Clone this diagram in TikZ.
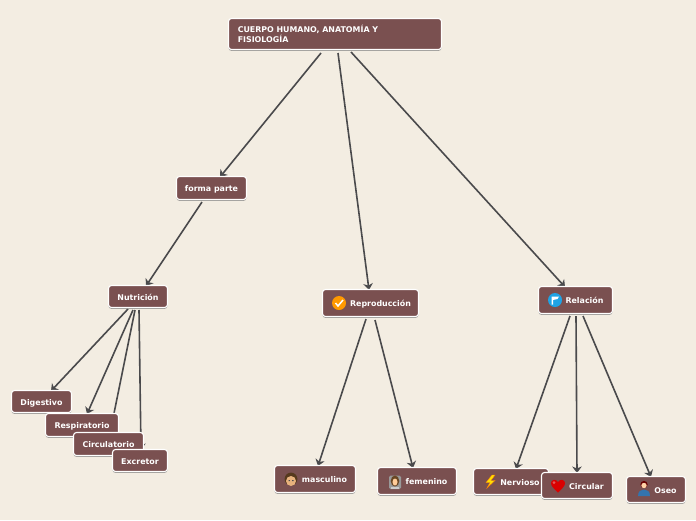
\documentclass[tikz,border=0pt]{standalone}
\usepackage{fontspec}
\setmainfont{DejaVu Sans}
\usetikzlibrary{calc,shadows,backgrounds,arrows.meta}
\definecolor{bg}{HTML}{F3EDE2}
\definecolor{boxc}{HTML}{7A5050}
\definecolor{linec}{HTML}{4A4A4C}
\tikzset{
  x=1pt,y=-1pt,
  mapbox/.style={draw=white,line width=1.1pt,fill=boxc,rounded corners=3pt,inner sep=0pt,outer sep=0pt,
    text=white,font=\fontsize{7.9}{10}\selectfont\bfseries,
    drop shadow={shadow xshift=0pt,shadow yshift=-1.4pt,fill=black!55,opacity=.7}},
  conn/.style={draw=linec,line width=1.6pt,-{Stealth[length=6.5pt,width=9.5pt,inset=2pt]}},
}
\newcommand{\bx}[6]{% name,x0,y0,x1,y1,text
  \node[mapbox,text height=8pt,text depth=1pt,minimum width=#4pt-#2pt+1pt,minimum height=#5pt-#3pt+1pt] (#1) at ({(#2+#4)/2},{(#3+#5)/2}) {#6};}
\begin{document}
\begin{tikzpicture}
\useasboundingbox (0,0) rectangle (696,520);
% boxes
\node[mapbox,minimum width=213pt,minimum height=31pt,anchor=north west,align=left,text width=194.5pt] (top) at (228.5,18.5) {CUERPO HUMANO, ANATOMÍA Y\\FISIOLOGÍA};
\bx{forma}{177}{177}{246}{199}{forma parte}
\bx{nutri}{109}{286}{167}{307}{Nutrición}
\bx{repro}{323}{290}{418}{316}{\hspace*{20pt}Reproducción}
\bx{rela}{539}{287}{612}{313}{\hspace*{18pt}Relación}
\bx{dige}{12}{391}{71}{412}{Digestivo}
\bx{resp}{46}{414}{118}{436}{Respiratorio}
\bx{circu}{74}{433}{143}{455}{Circulatorio}
\bx{excr}{113}{450}{167}{471}{Excretor}
\bx{masc}{275}{466}{355}{492}{\hspace*{19pt}masculino}
\bx{feme}{378}{468}{456}{494}{\hspace*{19pt}femenino}
\bx{nerv}{474}{469}{548}{494}{\hspace*{18pt}Nervioso}
\bx{circ}{542}{473}{612}{498}{\hspace*{19pt}Circular}
\bx{oseo}{627}{477}{685}{502}{\hspace*{19pt}Oseo}
% connectors and background
\begin{pgfonlayer}{background}
\fill[bg] (0,0) rectangle (696,520);
\draw[conn] ($(top.north west)+(92.5,34.5)$) -- ($(forma.north west)+(43.5,0.5)$);
\draw[conn] ($(top.north west)+(109.5,34.5)$) -- ($(repro.north west)+(46.5,0.5)$);
\draw[conn] ($(top.north west)+(122.5,33.5)$) -- ($(rela.north west)+(26.5,0.5)$);
\draw[conn] ($(forma.north west)+(25.5,25.5)$) -- ($(nutri.north west)+(37.5,0.5)$);
\draw[conn] ($(nutri.north west)+(19.5,23.5)$) -- ($(dige.north west)+(39.5,0.5)$);
\draw[conn] ($(nutri.north west)+(24.5,24.5)$) -- ($(resp.north west)+(41.5,0.5)$);
\draw[conn] ($(nutri.north west)+(26.5,24.5)$) -- ($(circu.north west)+(36.5,0.5)$);
\draw[conn] ($(nutri.north west)+(30.5,24.5)$) -- ($(excr.north west)+(28.5,0.5)$);
\draw[conn] ($(repro.north west)+(43.5,29.5)$) -- ($(masc.north west)+(43.5,0.5)$);
\draw[conn] ($(repro.north west)+(52.5,30.5)$) -- ($(feme.north west)+(35.5,0.5)$);
\draw[conn] ($(rela.north west)+(31.5,29.5)$) -- ($(nerv.north west)+(42.5,0.5)$);
\draw[conn] ($(rela.north west)+(37.5,29.5)$) -- ($(circ.north west)+(35.5,0.5)$);
\draw[conn] ($(rela.north west)+(44.5,29.5)$) -- ($(oseo.north west)+(24.5,0.5)$);
\end{pgfonlayer}
% icons
\fill[orange!80!yellow] (339,303) circle (7);
\draw[white,line width=1.5pt] (335.5,303) -- (338,306) -- (343,300);
\fill[cyan!85!blue!90!white] (555,300) circle (7);
\fill[white] (551.5,296.5) -- (559,296.5) -- (557.5,299) -- (553,300) -- (553,304.5) -- (551.5,304.5) -- cycle;
% man
\fill[brown!45!black] (291,479) circle (6.4);
\fill[orange!40!brown!60!white] (291,481) circle (5);
\fill[black!70] (288.5,480) rectangle (289.8,481) (292.2,480) rectangle (293.5,481);
% woman
\fill[black!40,rounded corners=1.5pt] (389,475.5) rectangle (401,489);
\fill[brown!55!black] (395,481) ellipse (4.3 and 5.5);
\fill[orange!40!white] (395,482) ellipse (2.5 and 3.5);
\fill[white!80!black] (391,489) rectangle (399,487);
% lightning
\fill[yellow!85!orange,draw=orange,line width=.4pt] (492,475) -- (486,482.5) -- (490,482.5) -- (487,488) -- (495,480.5) -- (491,480.5) -- (495,475) -- cycle;
% heart
\fill[red!85!black] (558,492.5) .. controls (553,488) and (551,485.5) .. (551,483) .. controls (551,479.5) and (556,478.5) .. (558,482) .. controls (560,478.5) and (565,479.5) .. (565,483) .. controls (565,485.5) and (563,488) .. (558,492.5) -- cycle;
\fill[white,opacity=.35] (554,482.5) circle (1.5);
% person
\fill[cyan!60!blue!80!black] (638,496) .. controls (638,491) and (641,489.5) .. (644,489.5) .. controls (647,489.5) and (650,491) .. (650,496) -- cycle;
\fill[red!40!black] (644,484.5) circle (3.6);
\fill[orange!35!white] (644,485.5) circle (2.7);
\end{tikzpicture}
\end{document}
